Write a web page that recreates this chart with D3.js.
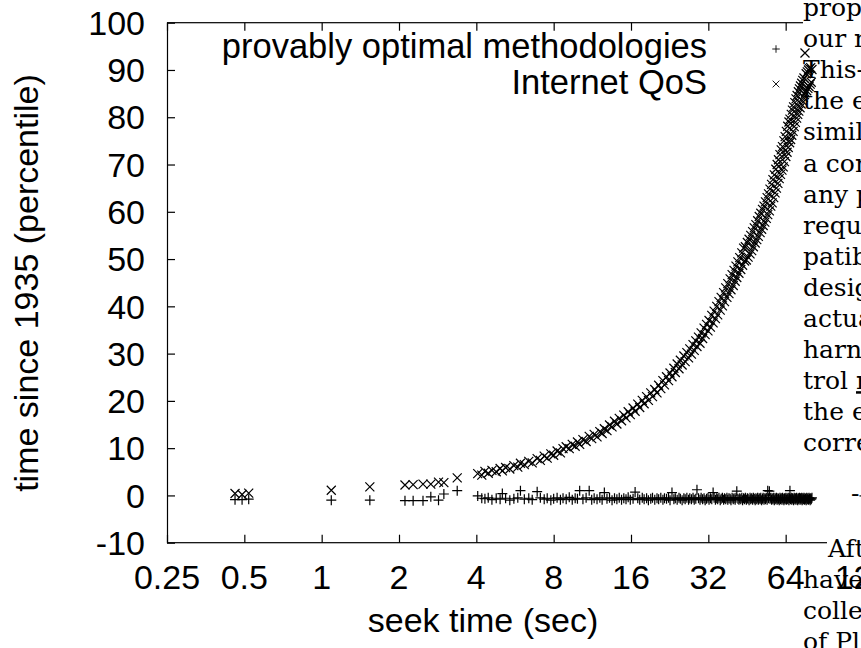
<!DOCTYPE html>
<html lang="en">
<head>
<meta charset="utf-8">
<title>seek time</title>
<script src="https://cdn.jsdelivr.net/npm/d3@7"></script>
<style>
  body { margin: 0; background: #fff; }
  svg text { font-family: "Liberation Sans", Arial, Helvetica, sans-serif; }
</style>
</head>
<body>
<div id="chart"></div>
<script>

// tick values
var xTicks = [0.25, 0.5, 1, 2, 4, 8, 16, 32, 64, 128];
var yTicks = [-10, 0, 10, 20, 30, 40, 50, 60, 70, 80, 90, 100];
var seriesNames = ["provably optimal methodologies", "Internet QoS"];

// [seek time, provably optimal methodologies, Internet QoS]
var samples = [
  [0.46, -0.9, 0.4], [0.49, -0.9, 0.2], [0.52, -0.8, 0.5],
  [1.09, -1.0, 1.1], [1.54, -1.0, 1.8],
  [2.11, -1.1, 2.2], [2.27, -1.1, 2.3], [2.48, -1.1, 2.4], [2.66, -0.3, 2.4],
  [2.85, -1.0, 2.8], [2.99, 0.3, 2.7], [3.37, 1.0, 3.7],
  [4.05, -0.1, 4.6], [4.2, -0.6, 4.3], [4.32, -0.7, 5.1], [4.45, -0.5, 4.7],
  [4.6, -0.9, 5.3], [4.78, -0.6, 5.0], [4.95, -0.8, 5.7], [5.05, 0.4, 5.2],
  [5.2, -0.6, 5.9], [5.4, -1.0, 5.6], [5.6, -0.7, 6.3], [5.8, -0.5, 6.0],
  [5.94, 1.0, 6.8], [6.15, -0.8, 6.5], [6.4, -0.6, 7.2], [6.6, -0.9, 6.9],
  [6.9, 0.8, 7.8], [7.1, -0.5, 7.4], [7.35, -0.8, 8.3], [7.55, -0.6, 7.9],
  [7.8, -1.0, 8.8], [8.0, -0.7, 8.5], [8.25, -0.5, 9.4], [8.5, -0.9, 9.0],
  [8.7, -0.6, 9.9], [8.95, -0.8, 10.3], [9.2, -0.4, 9.9], [9.45, -0.9, 10.8],
  [9.7, -0.6, 10.4], [9.9, -0.7, 11.3], [10.1, 1.0, 10.8], [10.4, -0.8, 11.8],
  [10.7, -0.5, 11.4], [11.0, 1.0, 12.5], [11.25, -0.9, 12.0], [11.5, -0.6, 12.9],
  [11.8, -0.8, 12.4], [12.1, -0.5, 13.5], [12.35, -0.9, 13.1], [12.6, 0.6, 14.1],
  [12.9, -0.7, 13.7], [13.2, -0.5, 14.9], [13.5, -1.0, 14.5], [13.8, -0.6, 15.7],
  [14.1, -0.8, 15.1], [14.4, -0.5, 16.3], [14.7, -0.9, 15.8], [15.0, -0.6, 17.0],
  [15.3, -0.8, 16.4], [15.6, -0.4, 17.7], [15.9, -0.9, 17.1], [16.3, -0.7, 18.5],
  [16.6, 0.7, 17.8], [17.0, -0.6, 19.3], [17.3, -0.9, 18.6], [17.7, -0.5, 20.1],
  [18.0, -0.8, 19.4], [18.4, -0.6, 20.9], [18.7, -1.0, 20.1], [19.1, -0.7, 21.7],
  [19.4, -0.5, 20.9], [19.8, -0.9, 22.4], [20.2, -0.6, 21.7], [20.5, -0.8, 23.3],
  [20.9, -0.5, 22.6], [21.3, -0.9, 24.3], [21.6, -0.6, 23.4], [22.0, -0.7, 25.1],
  [22.4, -0.5, 24.3], [22.7, -1.0, 25.9], [23.1, 0.6, 25.1], [23.5, -0.8, 26.9],
  [23.8, -0.6, 26.0], [24.2, -0.9, 27.8], [24.6, -0.5, 26.8], [24.9, -0.7, 28.6],
  [25.3, -1.0, 27.6], [25.7, -0.6, 29.5], [26.0, -0.8, 28.3], [26.4, -0.5, 30.2],
  [26.8, -0.9, 29.1], [27.1, -0.6, 31.0], [27.5, -0.8, 29.9], [27.9, -0.5, 31.9],
  [28.2, -0.9, 30.7], [28.6, -0.7, 32.7], [28.9, 1.2, 31.5], [29.3, -0.6, 33.5],
  [29.7, -0.9, 32.2], [30.0, -0.5, 34.4], [30.4, -0.8, 33.2], [30.8, -0.6, 35.4],
  [31.1, -1.0, 34.0], [31.5, -0.7, 36.2], [31.9, -0.5, 34.8], [32.2, -0.9, 37.0],
  [32.6, -0.6, 35.6], [33.0, -0.8, 38.1], [33.4, 0.6, 36.5], [33.7, -0.5, 39.0],
  [34.1, -0.9, 37.4], [34.5, -0.6, 40.0], [34.8, -0.8, 38.2], [35.2, -0.5, 41.0],
  [35.6, -1.0, 39.2], [35.9, -0.7, 41.9], [36.3, -0.5, 40.1], [36.7, -0.9, 42.9],
  [37.0, -0.6, 41.0], [37.4, -0.8, 43.9], [37.8, -0.5, 41.9], [38.1, -0.9, 44.8],
  [38.5, -0.6, 42.7], [38.9, -0.7, 45.8], [39.2, -1.0, 43.5], [39.6, -0.5, 46.7],
  [40.0, -0.8, 44.4], [40.3, -0.6, 47.6], [40.7, -0.9, 45.3], [41.0, -0.5, 48.5],
  [41.3, 0.9, 46.1], [41.7, -0.7, 49.4], [42.1, -0.9, 47.0], [42.4, -0.6, 50.3],
  [42.8, -0.8, 47.8], [43.2, -0.5, 51.3], [43.5, -1.0, 48.7], [43.9, -0.6, 52.3],
  [44.3, -0.8, 49.6], [44.6, -0.5, 52.6], [45.0, -0.9, 49.8], [45.4, -0.6, 53.5],
  [45.7, -0.7, 50.4], [46.1, -1.0, 54.2], [46.5, -0.5, 51.1], [46.8, -0.8, 55.0],
  [47.2, -0.6, 51.8], [47.6, -0.9, 55.8], [47.9, -0.5, 52.6], [48.3, -0.7, 56.6],
  [48.7, -1.0, 53.4], [49.0, -0.6, 57.3], [49.4, -0.8, 54.1], [49.8, -0.5, 58.1],
  [50.1, -0.9, 54.8], [50.5, -0.6, 59.0], [50.9, -0.8, 55.6], [51.2, -0.5, 59.7],
  [51.6, -1.0, 56.3], [52.0, -0.7, 60.5], [52.3, -0.5, 57.1], [52.7, -0.9, 61.2],
  [53.1, -0.6, 57.8], [53.4, -0.8, 62.1], [53.8, -0.5, 58.6], [54.2, -0.9, 63.0],
  [54.5, 1.0, 59.4], [54.9, -0.6, 63.8], [55.3, 0.9, 60.2], [55.6, -0.7, 64.8],
  [56.0, -0.5, 61.2], [56.4, -0.9, 65.8], [56.7, -0.6, 61.9], [57.1, -0.8, 66.8],
  [57.5, -0.5, 63.0], [57.8, -1.0, 67.8], [58.2, -0.6, 64.0], [58.6, -0.8, 69.0],
  [58.9, -0.5, 65.0], [59.3, -0.9, 70.0], [59.7, -0.6, 66.0], [60.0, -0.7, 71.0],
  [60.4, -1.0, 67.0], [60.8, -0.5, 72.1], [61.1, -0.8, 67.9], [61.5, -0.6, 73.1],
  [61.9, -0.9, 68.8], [62.2, -0.5, 73.8], [62.6, -0.7, 69.5], [63.0, -1.0, 75.0],
  [63.3, -0.6, 70.6], [63.7, -0.8, 75.9], [64.1, -0.5, 71.7], [64.4, -0.9, 77.0],
  [64.8, -0.6, 72.6], [65.2, -0.8, 78.1], [65.5, -0.5, 73.6], [65.9, -1.0, 79.0],
  [66.3, -0.6, 74.6], [66.5, 1.0, 79.6], [66.9, -0.8, 75.3], [67.3, -0.5, 80.6],
  [67.6, -0.9, 76.2], [68.0, -0.6, 81.5], [68.4, -0.7, 77.0], [68.7, -1.0, 82.2],
  [69.1, -0.5, 78.0], [69.5, -0.8, 83.1], [69.8, -0.6, 78.9], [70.2, -0.9, 83.9],
  [70.6, -0.5, 79.8], [70.9, -0.7, 84.6], [71.3, -1.0, 80.6], [71.7, -0.6, 85.4],
  [72.0, -0.8, 81.3], [72.4, -0.5, 86.0], [72.8, -0.9, 82.0], [73.1, -0.6, 86.6],
  [73.5, -0.8, 82.8], [73.9, -0.5, 87.2], [74.2, -1.0, 83.5], [74.6, -0.6, 87.8],
  [75.0, -0.8, 84.2], [75.4, -0.5, 88.3], [75.8, -0.9, 84.8], [76.1, -0.6, 93.6],
  [76.5, -0.7, 85.2], [76.9, -1.0, 89.2], [77.3, -0.5, 85.6], [77.7, -0.8, 89.6],
  [78.1, -0.6, 86.1], [78.5, -0.9, 90.0], [78.9, -0.5, 86.5], [79.3, -0.7, 90.3],
  [79.7, -1.0, 87.0], [80.1, -0.6, 90.5], [80.5, -0.8, 87.4], [81.0, -0.5, 90.1]
];

// bits of the paper's text column that overlap the figure on the right
var columnLines = ["propo", "our r", "This-", "the e", "simila", "a con", "any p",
  "requi", "patib", "desig", "actua", "harne", "trol ", "the e", "corre"];

var width = 861, height = 648;

var svg = d3.select("#chart")
  .append("svg")
    .attr("width", width)
    .attr("height", height);

var x = d3.scaleLog().base(2)
  .domain([0.25, 128])
  .range([167, 863]);

var y = d3.scaleLinear()
  .domain([-10, 100])
  .range([542.7, 22.7]);

var plusPath = "M-5,0H5M0,-5V5";
var timesPath = "M-4.5,-4.5L4.5,4.5M-4.5,4.5L4.5,-4.5";

// frame + inward ticks (labels drawn later, on top of the text column)
svg.append("rect")
  .attr("x", x(0.25) + 0.5)
  .attr("y", y(100))
  .attr("width", x(128) - x(0.25))
  .attr("height", y(-10) - y(100))
  .attr("fill", "none")
  .attr("stroke", "#000")
  .attr("stroke-width", 1.2);

function ticks(g) {
  g.select(".domain").remove();
  g.selectAll("line").attr("stroke", "#000").attr("stroke-width", 1.2);
}

svg.append("g")
  .attr("transform", "translate(0," + y(-10) + ")")
  .call(d3.axisBottom(x).tickValues(xTicks).tickSize(-8).tickFormat(""))
  .call(ticks);
svg.append("g")
  .attr("transform", "translate(0," + y(100) + ")")
  .call(d3.axisTop(x).tickValues(xTicks).tickSize(-8).tickFormat(""))
  .call(ticks);
svg.append("g")
  .attr("transform", "translate(" + x(0.25) + ",0)")
  .call(d3.axisLeft(y).tickValues(yTicks).tickSize(-8).tickFormat(""))
  .call(ticks);
svg.append("g")
  .attr("transform", "translate(" + x(128) + ",0)")
  .call(d3.axisRight(y).tickValues(yTicks).tickSize(-8).tickFormat(""))
  .call(ticks);

// the text column, with white boxes behind each line
var column = svg.append("g")
  .style("font-size", "25px");

function columnText(str, tx, ty) {
  return column.append("text")
    .attr("x", tx)
    .attr("y", ty)
    .style("font-family", "'DejaVu Serif', serif")
    .text(str);
}

columnLines.forEach(function(s, i) {
  columnText(s, 803, 16 + i * 31.1);
});
// underlined r on the "trol" line
column.selectAll("text").filter(function(d, i) { return i === 12; })
  .append("tspan").attr("text-decoration", "underline").text("r");

columnText("-", 851, 502);
columnText("Aft", 828, 557);
columnText("have", 803, 588);
columnText("colle", 803, 619);
columnText("of Pl", 803, 650);

column.selectAll("text").each(function() {
  var node = this;
  var b = node.getBBox();
  column.insert("rect", function() { return node; })
    .attr("x", b.x)
    .attr("y", b.y - 2)
    .attr("width", b.width)
    .attr("height", b.height + 4)
    .attr("fill", "#fff");
});

// tick labels
svg.append("g").selectAll("text")
  .data(xTicks)
  .enter()
  .append("text")
    .attr("x", function(d) { return x(d); })
    .attr("y", 589)
    .attr("text-anchor", "middle")
    .style("font-size", "34px")
    .text(function(d) { return String(d); });

svg.append("g").selectAll("text")
  .data(yTicks)
  .enter()
  .append("text")
    .attr("x", 145)
    .attr("y", function(d) { return y(d); })
    .attr("dy", "0.36em")
    .attr("text-anchor", "end")
    .style("font-size", "34px")
    .text(function(d) { return String(d); });

// axis titles
svg.append("text")
  .attr("x", 483)
  .attr("y", 632)
  .attr("text-anchor", "middle")
  .style("font-size", "34px")
  .text("seek time (sec)");

svg.append("text")
  .attr("transform", "translate(38,283) rotate(-90)")
  .attr("text-anchor", "middle")
  .style("font-size", "34px")
  .text("time since 1935 (percentile)");

// the points
svg.append("g").selectAll("path")
  .data(samples)
  .enter()
  .append("path")
    .attr("transform", function(d) { return "translate(" + x(d[0]) + "," + y(d[1]) + ")"; })
    .attr("d", plusPath)
    .attr("fill", "none")
    .attr("stroke", "#000")
    .attr("stroke-width", 1.2);

svg.append("g").selectAll("path")
  .data(samples)
  .enter()
  .append("path")
    .attr("transform", function(d) { return "translate(" + x(d[0]) + "," + y(d[2]) + ")"; })
    .attr("d", timesPath)
    .attr("fill", "none")
    .attr("stroke", "#000")
    .attr("stroke-width", 1.2);

// legend
var legend = svg.append("g");
seriesNames.forEach(function(name, i) {
  legend.append("text")
    .attr("x", 707)
    .attr("y", 58 + i * 36)
    .attr("text-anchor", "end")
    .style("font-size", "34.5px")
    .text(name);
  legend.append("path")
    .attr("transform", "translate(776," + (49 + i * 35) + ") scale(0.75)")
    .attr("d", i === 0 ? plusPath : timesPath)
    .attr("fill", "none")
    .attr("stroke", "#000")
    .attr("stroke-width", 1.2);
});

</script>
</body>
</html>
